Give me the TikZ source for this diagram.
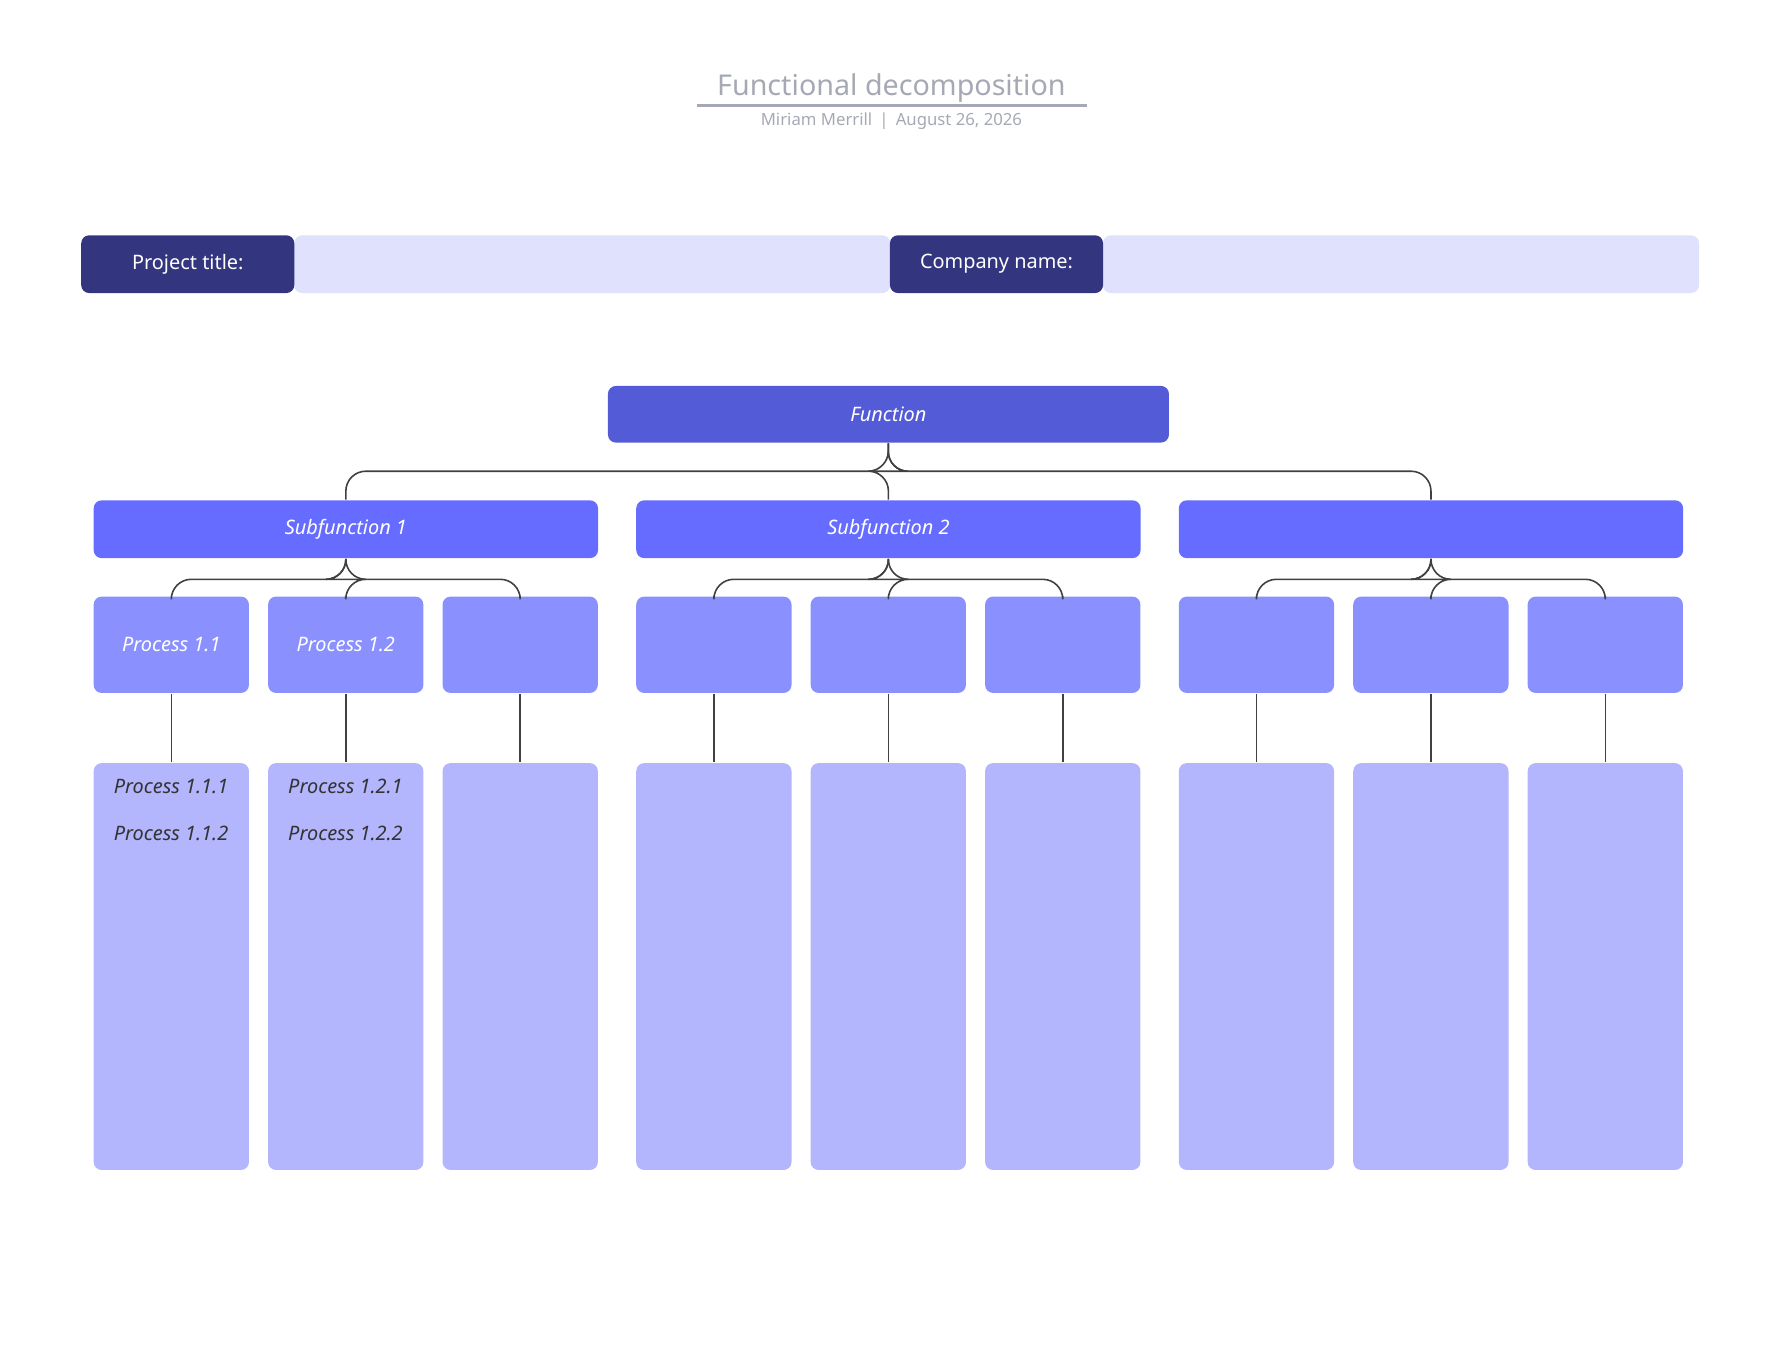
\documentclass[tikz,border=0pt]{standalone}
\usepackage{fontspec}
\setmainfont{Noto Sans}
\usepackage{tikz}
\usetikzlibrary{positioning}
\definecolor{navy}{HTML}{33367F}
\definecolor{lavender}{HTML}{E0E1FC}
\definecolor{funccol}{HTML}{545BD6}
\definecolor{subcol}{HTML}{666CFF}
\definecolor{proccol}{HTML}{8A90FD}
\definecolor{leafcol}{HTML}{B3B5FD}
\definecolor{titlegray}{HTML}{A5A9B3}
\tikzset{
  box/.style={rounded corners=2pt, inner sep=0pt, anchor=north west},
  link/.style={draw=black!75, line width=0.4pt, rounded corners=5pt},
  lbl/.style={font=\itshape\fontsize{5}{6}\selectfont},
}

\begin{document}
\begin{tikzpicture}[x=0.01cm, y=-0.01cm]
    \useasboundingbox (0,0) rectangle (1560,1205);
    % Title block
    \node[text=titlegray, font=\bfseries\fontsize{7.2}{8}\selectfont] (title) at (787,78) {Functional decomposition};
    \draw[titlegray, line width=0.6pt] (615,93) -- (960,93);
    \node[text=titlegray, font=\fontsize{4.2}{5}\selectfont] (meta) at (787,107) {Miriam Merrill \,\textbar\, August 26, 2026};

    % Header fields
    \node[box, fill=lavender, minimum width=5.26cm, minimum height=0.51cm] (projval) at (259,207) {};
    \node[box, fill=lavender, minimum width=5.26cm, minimum height=0.51cm] (compval) at (973,207) {};
    \node[box, fill=navy, text=white, minimum width=1.88cm, minimum height=0.51cm, font=\fontsize{5}{6}\selectfont] (proj) at (71,207) {Project title:};
    \node[box, fill=navy, text=white, minimum width=1.88cm, minimum height=0.51cm, font=\fontsize{5}{6}\selectfont] (comp) at (785,207) {Company name:};

    % Function
    \node[box, fill=funccol, text=white, minimum width=4.95cm, minimum height=0.50cm, lbl] (func) at (536,340) {Function};

    % Subfunctions, processes and leaves
    \foreach \i/\sx/\lab in {1/82/Subfunction 1, 2/561/Subfunction 2, 3/1040/{}} {
        \node[box, fill=subcol, text=white, minimum width=4.45cm, minimum height=0.51cm, lbl] (sub\i) at (\sx,441) {\lab};
        \draw[link] (func.south) -- (784,416) -| (sub\i.north);
        \foreach \j in {1,2,3} {
            \pgfmathsetmacro{\px}{\sx+(\j-1)*154}
            \node[box, fill=proccol, minimum width=1.37cm, minimum height=0.85cm] (proc\i\j) at (\px,526) {};
            \node[box, fill=leafcol, minimum width=1.37cm, minimum height=3.59cm] (leaf\i\j) at (\px,673) {};
            \draw[link] (sub\i.south) -- ++(0,18) -| (proc\i\j.north);
            \draw[link] (proc\i\j.south) -- (leaf\i\j.north);
        }
    }

    % Labels
    \node[text=white, lbl] (p11) at (proc11.center) {Process 1.1};
    \node[text=white, lbl] (p12) at (proc12.center) {Process 1.2};
    \node[text=black!80, lbl] (p111) at (151,694) {Process 1.1.1};
    \node[text=black!80, lbl] (p112) at (151,736) {Process 1.1.2};
    \node[text=black!80, lbl] (p121) at (305,694) {Process 1.2.1};
    \node[text=black!80, lbl] (p122) at (305,736) {Process 1.2.2};
\end{tikzpicture}
\end{document}
